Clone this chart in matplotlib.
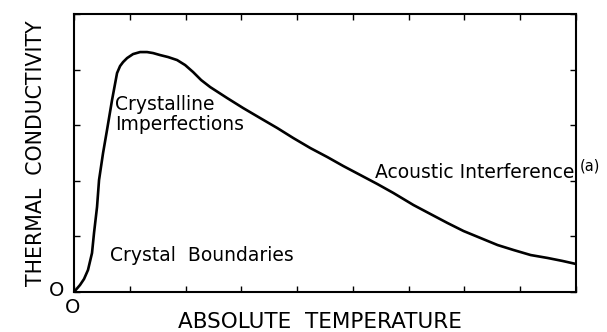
import matplotlib
matplotlib.use("Agg")
import matplotlib.pyplot as plt

# curve (x: tick units 0..9, y: tick units 0..5)
temperature = [0.0, 0.108, 0.18, 0.251, 0.323, 0.359, 0.413, 0.449, 0.521, 0.592,
               0.682, 0.772, 0.826, 0.88, 0.952, 1.059, 1.185, 1.31, 1.418, 1.544,
               1.688, 1.849, 1.993, 2.136, 2.28, 2.442, 2.747, 3.034, 3.339, 3.645,
               3.932, 4.237, 4.542, 4.829, 5.135, 5.44, 5.727, 6.086, 6.391, 6.697,
               6.984, 7.289, 7.594, 7.882, 8.187, 8.492, 8.761, 9.0]
conductivity = [0.0, 0.126, 0.234, 0.396, 0.701, 1.061, 1.529, 2.014, 2.5, 2.914,
                3.453, 3.939, 4.065, 4.137, 4.209, 4.281, 4.317, 4.317, 4.299, 4.263,
                4.227, 4.173, 4.083, 3.957, 3.813, 3.687, 3.489, 3.309, 3.129, 2.95,
                2.77, 2.59, 2.428, 2.266, 2.104, 1.942, 1.781, 1.565, 1.403, 1.241,
                1.097, 0.971, 0.845, 0.755, 0.665, 0.612, 0.558, 0.504]

x_ticks = list(range(10))
y_ticks = list(range(6))

fig = plt.figure(figsize=(6.07, 3.32), dpi=100)
ax = fig.add_axes([0.1219, 0.1205, 0.827, 0.837])

ax.plot(temperature, conductivity, color="black", lw=1.9,
        solid_capstyle="round", solid_joinstyle="round")

ax.set_xlim(0, 9)
ax.set_ylim(0, 5)
ax.set_xticks(x_ticks)
ax.set_yticks(y_ticks)
ax.tick_params(direction="in", length=4, width=1.0, top=True, right=True,
               labelbottom=False, labelleft=False)
for s in ax.spines.values():
    s.set_linewidth(1.5)

fs = 13.5
ax.text(0.73, 3.2, "Crystalline\nImperfections", fontsize=fs, ha="left", va="center",
        linespacing=1.05)
ax.text(0.65, 0.65, "Crystal  Boundaries", fontsize=fs, ha="left", va="center")
ax.text(5.4, 2.15, "Acoustic Interference", fontsize=fs, ha="left", va="center")
ax.text(9.07, 2.27, "(a)", fontsize=10.5, ha="left", va="center", clip_on=False)

ax.annotate("O", (0, 0), xytext=(-17, 1), textcoords="offset pixels",
            fontsize=14, ha="center", va="center", annotation_clip=False)
ax.annotate("O", (0, 0), xytext=(-1, -16), textcoords="offset pixels",
            fontsize=14, ha="center", va="center", annotation_clip=False)

fig.text(0.527, 0.03, "ABSOLUTE  TEMPERATURE", fontsize=15.5, ha="center", va="center")
fig.text(0.059, 0.54, "THERMAL  CONDUCTIVITY", fontsize=14.8, ha="center", va="center",
         rotation=90)

fig.savefig("out.png", dpi=100)
